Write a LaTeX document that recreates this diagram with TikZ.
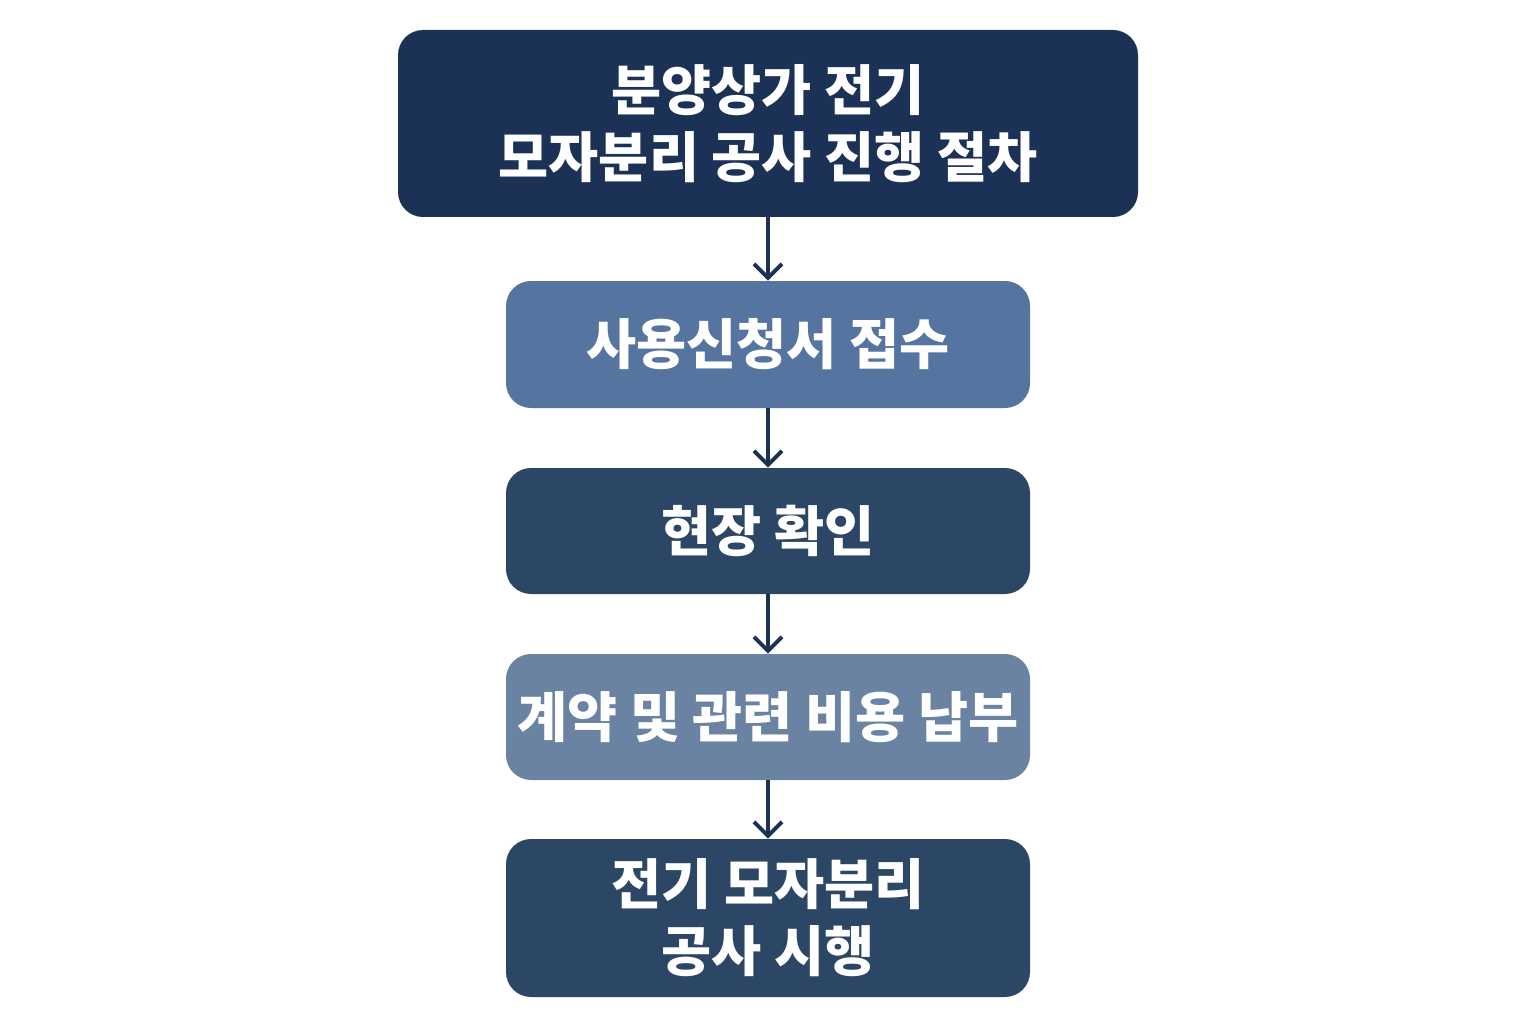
\documentclass[tikz,border=0pt]{standalone}
\usepackage{fontspec}
\setmainfont{Noto Sans CJK KR}
\usepackage{xcolor}
\usetikzlibrary{arrows.meta}
\definecolor{navy}{HTML}{1C3156}
\definecolor{steel}{HTML}{5575A0}
\definecolor{slate}{HTML}{2C4666}
\definecolor{mist}{HTML}{6A83A3}

\begin{document}
\begin{tikzpicture}[x=0.02cm, y=-0.02cm,
	stepbox/.style={rounded corners=0.5cm, inner sep=0pt, text=white,
		font=\fontsize{31}{38}\selectfont\bfseries, align=center},
	link/.style={-{Straight Barb[length=8pt, width=16pt, line width=2.2pt]},
		line width=2.2pt, color=navy}]
	\useasboundingbox (0, 0) rectangle (1536, 1024);
	\node[stepbox, fill=navy, minimum width=740*0.02cm, minimum height=187*0.02cm] (title) at (768, 123.5) {분양상가 전기\\모자분리 공사 진행 절차};
	\node[stepbox, fill=steel, minimum width=524*0.02cm, minimum height=127*0.02cm] (apply) at (768, 344.5) {사용신청서 접수};
	\node[stepbox, fill=slate, minimum width=524*0.02cm, minimum height=126*0.02cm] (check) at (768, 531) {현장 확인};
	\node[stepbox, fill=mist, minimum width=524*0.02cm, minimum height=126*0.02cm] (pay) at (768, 717) {계약 및 관련 비용 납부};
	\node[stepbox, fill=slate, minimum width=524*0.02cm, minimum height=158*0.02cm] (work) at (768, 918) {전기 모자분리\\공사 시행};
	\draw[link] (title) -- (apply);
	\draw[link] (apply) -- (check);
	\draw[link] (check) -- (pay);
	\draw[link] (pay) -- (work);
\end{tikzpicture}
\end{document}
